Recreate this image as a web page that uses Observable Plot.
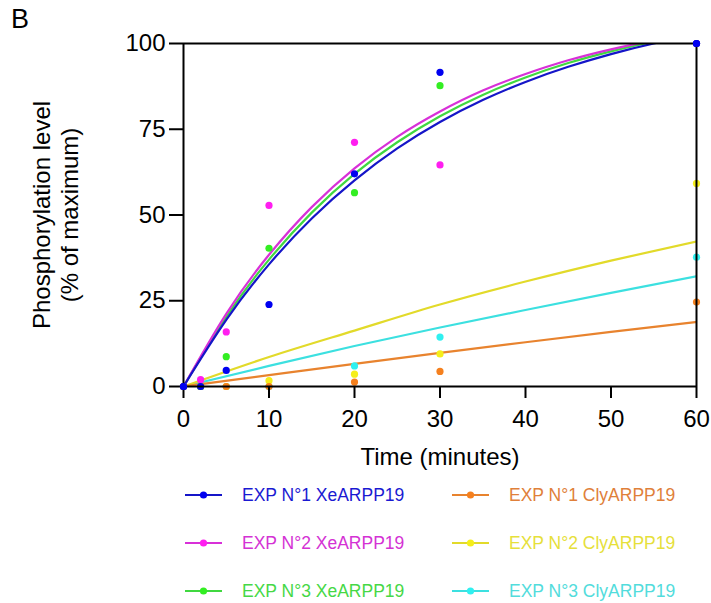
<!DOCTYPE html>
<html>
<head>
<meta charset="utf-8">
<script src="https://cdn.jsdelivr.net/npm/d3@7"></script>
<script src="https://cdn.jsdelivr.net/npm/@observablehq/plot@0.6"></script>
<style>
  body { margin: 0; background: #fff; }
  #wrap { position: relative; width: 711px; height: 603px; font-family: "Liberation Sans", Arial, sans-serif; }
  #panel { position: absolute; left: 11px; top: 4px; font-size: 27px; }
  #chart { position: absolute; left: 0; top: 0; }
  .lg { position: absolute; display: flex; align-items: center; font-size: 17.5px; white-space: nowrap; }
  .lg svg { margin-right: 20px; }
</style>
</head>
<body>
<div id="wrap">
  <div id="chart"></div>
  <div id="panel">B</div>
</div>
<script>
// Measured time points (minutes)
const times = [0, 2, 5, 10, 20, 30, 60];
// Measured phosphorylation levels (% of maximum)
const xe1 = [0, 0, 4.7, 23.9, 62.0, 91.6, 100];
const xe2 = [0, 2.0, 15.9, 52.8, 71.2, 64.6, 100];
const xe3 = [0, 0, 8.7, 40.3, 56.5, 87.7, 100];
const cly1 = [0, 0, 0, 0, 1.3, 4.4, 24.6];
const cly2 = [0, 0, 0, 1.7, 3.6, 9.5, 59.2];
const cly3 = [0, 0, 0, 0, 6.0, 14.4, 37.7];

// Fitted curves
const fitT = [0, 5, 10, 15, 20, 25, 30, 35, 40, 45, 50, 55, 60];
const fitXe1 = [0, 19.4, 35.6, 49.0, 60.1, 69.4, 77.1, 83.5, 88.8, 93.2, 96.9, 100.0, 102.5];
const fitXe2 = [0, 21.2, 38.4, 52.3, 63.6, 72.8, 80.2, 86.3, 91.1, 95.1, 98.3, 100.9, 103.0];
const fitXe3 = [0, 20.3, 37.0, 50.7, 62.0, 71.2, 78.8, 85.0, 90.1, 94.3, 97.7, 100.6, 102.9];
const fitTc = [0, 10, 20, 30, 40, 50, 60];
const fitCly1 = [0, 3.3, 6.6, 9.8, 12.9, 15.9, 18.8];
const fitCly2 = [0, 8.6, 16.3, 23.9, 30.6, 36.7, 42.3];
const fitCly3 = [0, 6.0, 11.8, 17.2, 22.3, 27.3, 32.1];

const xTicks = [0, 10, 20, 30, 40, 50, 60];
const yTicks = [0, 25, 50, 75, 100];

const seriesNames = ["EXP N°1 XeARPP19", "EXP N°2 XeARPP19", "EXP N°3 XeARPP19",
                     "EXP N°1 ClyARPP19", "EXP N°2 ClyARPP19", "EXP N°3 ClyARPP19"];
const pointColors = ["#0000f0", "#ff1ef0", "#33ee22", "#f5801e", "#f5ee1a", "#30f0f0"];
const lineColors  = ["#1515c8", "#d830d8", "#40d840", "#e8832e", "#e2da2a", "#3ce0e0"];
const textColors  = ["#1a1ad2", "#d432d4", "#46d846", "#e0803a", "#e6e03a", "#52dcdc"];

const ptSets = [xe1, xe2, xe3, cly1, cly2, cly3];
const fitSets = [[fitT, fitXe1], [fitT, fitXe2], [fitT, fitXe3], [fitTc, fitCly1], [fitTc, fitCly2], [fitTc, fitCly3]];

const points = [];
ptSets.forEach((vals, s) => vals.forEach((v, i) => points.push({s, t: times[i], v})));
const fits = [];
fitSets.forEach(([ts, vs], s) => vs.forEach((v, i) => fits.push({s, t: ts[i], v})));

// draw order: Cly first, then Xe with N°1 on top
const order = [5, 4, 3, 2, 1, 0];

const marks = [];
order.forEach(s => {
  marks.push(Plot.line(fits.filter(d => d.s === s), {x: "t", y: "v", stroke: lineColors[s], strokeWidth: 2.2, curve: "natural", clip: true}));
});
order.forEach(s => {
  marks.push(Plot.dot(points.filter(d => d.s === s), {x: "t", y: "v", r: 3.6, fill: pointColors[s], stroke: "none"}));
});

const chart = Plot.plot({
  width: 711,
  height: 470,
  marginLeft: 183,
  marginRight: 15,
  marginTop: 43,
  marginBottom: 84,
  style: {fontFamily: "'Liberation Sans', Arial, sans-serif", fontSize: "24px", color: "#000", background: "#fff", overflow: "visible"},
  x: {domain: [0, 60]},
  y: {domain: [0, 100]},
  marks: [
    ...marks,
    Plot.ruleY([100], {stroke: "#000", strokeWidth: 2}),
    Plot.ruleX([60], {stroke: "#000", strokeWidth: 2}),
    Plot.ruleX([0], {stroke: "#000", strokeWidth: 2}),
    Plot.ruleY([0], {stroke: "#000", strokeWidth: 2}),
    Plot.axisX(xTicks, {tickSize: 12, tickPadding: 11, strokeWidth: 2, label: null, fontSize: 24}),
    Plot.axisY(yTicks, {tickSize: 14, tickPadding: 4, strokeWidth: 2, label: null, fontSize: 24}),
    Plot.text(["Time (minutes)"], {frameAnchor: "bottom", dy: 78, textAnchor: "middle", fontSize: 24, fill: "#000"}),
    Plot.text(["Phosphorylation level"], {frameAnchor: "left", dx: -141, textAnchor: "middle", rotate: -90, fontSize: 24, fill: "#000"}),
    Plot.text(["(% of maximum)"], {frameAnchor: "left", dx: -113, textAnchor: "middle", rotate: -90, fontSize: 24, fill: "#000"}),
    // redraw point at origin and at 60 on top of frame
    Plot.dot(points.filter(d => d.s === 0 && (d.t === 0 || d.t === 60)), {x: "t", y: "v", r: 3.6, fill: pointColors[0]})
  ]
});
document.getElementById("chart").appendChild(chart);

// Legend
const wrap = document.getElementById("wrap");
const rowsY = [495, 543, 591];
const colX = [185, 452];
seriesNames.forEach((name, s) => {
  const col = s < 3 ? 0 : 1;
  const row = s % 3;
  const div = document.createElement("div");
  div.className = "lg";
  div.style.left = colX[col] + "px";
  div.style.top = (rowsY[row] - 12) + "px";
  div.style.height = "24px";
  div.innerHTML = `<svg width="37" height="12"><line x1="0" y1="6" x2="37" y2="6" stroke="${lineColors[s]}" stroke-width="2.2"/><circle cx="18.5" cy="6" r="3.6" fill="${pointColors[s]}"/></svg><span style="color:${textColors[s]}">${name}</span>`;
  wrap.appendChild(div);
});
</script>
</body>
</html>
